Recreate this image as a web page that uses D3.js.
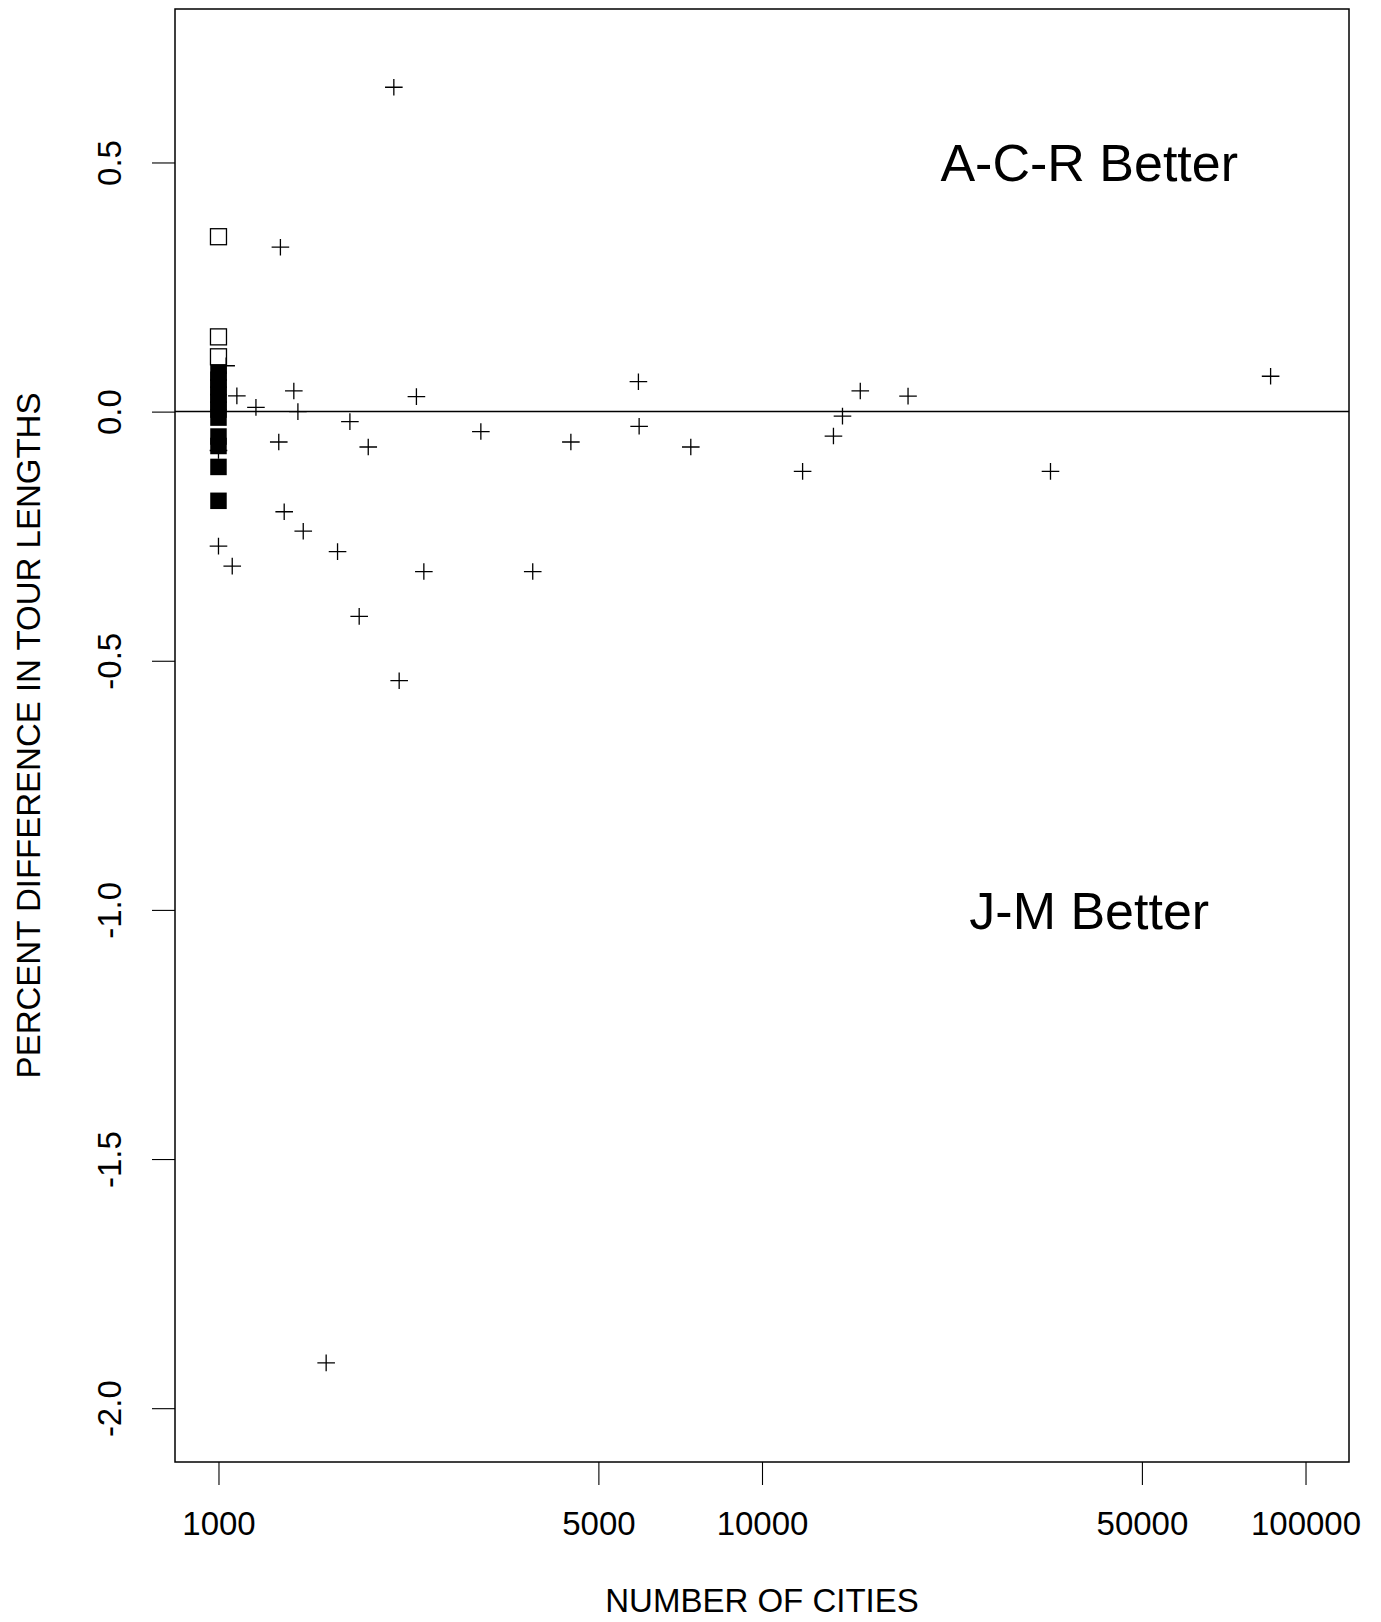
<!DOCTYPE html>
<meta charset="utf-8">
<script src="https://d3js.org/d3.v7.min.js"></script>
<style>
  body { margin: 0; background: #fff; }
  text { font-family: "Liberation Sans", Arial, sans-serif; fill: #000; }
</style>
<div id="chart"></div>
<script>
// crosses: tours of various sizes (x = number of cities, y = percent difference)
var crossCities = [2102, 1300, 1376, 1400, 1172, 2313, 5924, 5942, 7396, 4450,
                   3039, 1745, 1886, 1291, 1321, 1432, 1656, 2387, 3786, 1815,
                   2150, 1578, 15164, 18565, 14063, 13535, 11877, 33946, 86250,
                   1000, 1060, 1081, 1033, 1000];
var crossDiff   = [0.651, 0.330, 0.0415, 0.0, 0.0085, 0.030, 0.060, -0.0295, -0.071, -0.061,
                   -0.040, -0.020, -0.071, -0.061, -0.201, -0.240, -0.281, -0.321, -0.321, -0.411,
                   -0.540, -1.909, 0.0415, 0.031, -0.009, -0.049, -0.120, -0.120, 0.071,
                   -0.270, -0.310, 0.0315, 0.092, -0.078];

// squares at 1000 cities
var openCities = [1000, 1000, 1000];
var openDiff   = [0.351, 0.150, 0.110];
var filledCities = [1000, 1000, 1000, 1000, 1000, 1000, 1000, 1000, 1000, 1000, 1000];
var filledDiff   = [0.078, 0.064, 0.049, 0.034, 0.019, 0.004, -0.012, -0.050, -0.069, -0.111, -0.179];

var xTicks = [1000, 5000, 10000, 50000, 100000];
var yTicks = [-2.0, -1.5, -1.0, -0.5, 0.0, 0.5];

var labels = [{text: "A-C-R Better", x: 40000, y: 0.5},
              {text: "J-M Better",   x: 40000, y: -1.0}];

var margin = {top: 9, right: 32, bottom: 160, left: 175},
    width = 1381 - margin.left - margin.right,
    height = 1622 - margin.top - margin.bottom;

var svg = d3.select("#chart")
    .append("svg")
        .attr("width", 1381)
        .attr("height", 1622)
    .append("g")
        .attr("transform", "translate(" + margin.left + "," + margin.top + ")");

// R style: 4% padding around xlim = c(1000, 100000)
var x = d3.scaleLog().domain([Math.pow(10, 2.92), Math.pow(10, 5.08)]).range([0, width]);
var y = d3.scaleLinear().domain([-2.108, 0.808]).range([height, 0]);

// x axis
var xAxis = svg.append("g")
    .attr("transform", "translate(0," + height + ")")
    .call(d3.axisBottom(x).tickValues(xTicks).tickSize(23).tickFormat(d3.format("d")));
xAxis.select(".domain").remove();
xAxis.selectAll("line").attr("stroke", "#000").attr("stroke-width", 1.1);
xAxis.selectAll("text")
    .attr("y", 73).attr("dy", 0)
    .style("font-size", "33px")
    .style("font-family", '"Liberation Sans", Arial, sans-serif');

// y axis, labels rotated like R's default
var yAxis = svg.append("g")
    .call(d3.axisLeft(y).tickValues(yTicks).tickSize(23).tickFormat(function(d) { return d.toFixed(1); }));
yAxis.select(".domain").remove();
yAxis.selectAll("line").attr("stroke", "#000").attr("stroke-width", 1.1);
yAxis.selectAll("text")
    .attr("x", 0).attr("y", 0).attr("dy", 0)
    .attr("text-anchor", "middle")
    .attr("transform", "translate(-54,0) rotate(-90)")
    .style("font-size", "33px")
    .style("font-family", '"Liberation Sans", Arial, sans-serif');

// axis titles
svg.append("text")
    .attr("x", width / 2)
    .attr("y", 1612 - margin.top)
    .attr("text-anchor", "middle")
    .style("font-size", "33px")
    .text("NUMBER OF CITIES");

svg.append("text")
    .attr("transform", "translate(" + (40 - margin.left) + "," + (height / 2) + ") rotate(-90)")
    .attr("text-anchor", "middle")
    .style("font-size", "33px")
    .text("PERCENT DIFFERENCE IN TOUR LENGTHS");

// zero line
svg.append("line")
    .attr("x1", 0).attr("x2", width)
    .attr("y1", y(0)).attr("y2", y(0))
    .attr("stroke", "#000").attr("stroke-width", 1.5);

// crosses
svg.selectAll(".cross")
    .data(d3.range(crossCities.length))
  .enter().append("path")
    .attr("class", "cross")
    .attr("transform", function(i) { return "translate(" + x(crossCities[i]) + "," + y(crossDiff[i]) + ")"; })
    .attr("d", "M-8.8,0H8.8M0,-8.3V8.3")
    .attr("stroke", "#000")
    .attr("stroke-width", 1.3)
    .attr("fill", "none");

// open squares
svg.selectAll(".open")
    .data(d3.range(openCities.length))
  .enter().append("rect")
    .attr("class", "open")
    .attr("x", function(i) { return x(openCities[i]) - 8; })
    .attr("y", function(i) { return y(openDiff[i]) - 8; })
    .attr("width", 16).attr("height", 16)
    .attr("fill", "none")
    .attr("stroke", "#000")
    .attr("stroke-width", 1.3);

// filled squares
svg.selectAll(".filled")
    .data(d3.range(filledCities.length))
  .enter().append("rect")
    .attr("class", "filled")
    .attr("x", function(i) { return x(filledCities[i]) - 8.25; })
    .attr("y", function(i) { return y(filledDiff[i]) - 8.25; })
    .attr("width", 16.5).attr("height", 16.5)
    .attr("fill", "#000");

// region labels
svg.selectAll(".region")
    .data(labels)
  .enter().append("text")
    .attr("class", "region")
    .attr("x", function(d) { return x(d.x); })
    .attr("y", function(d) { return y(d.y) + 0.358 * 52; })
    .attr("text-anchor", "middle")
    .style("font-size", "52px")
    .text(function(d) { return d.text; });

// frame
svg.append("rect")
    .attr("x", 0).attr("y", 0)
    .attr("width", width).attr("height", height)
    .attr("fill", "none")
    .attr("stroke", "#000")
    .attr("stroke-width", 1.5);
</script>
